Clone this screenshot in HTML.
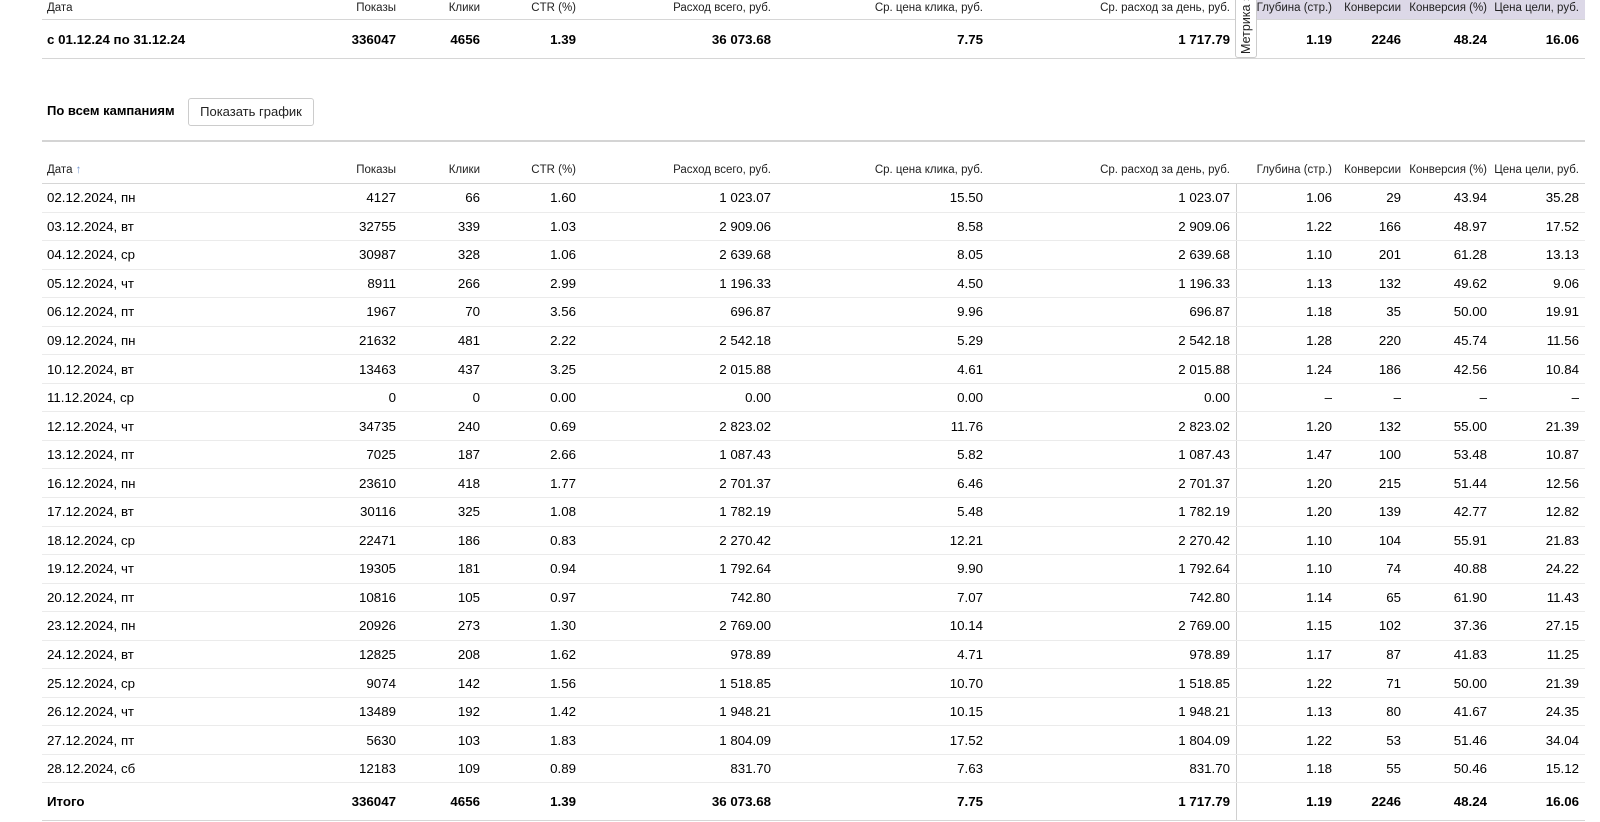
<!DOCTYPE html>
<html><head><meta charset="utf-8">
<style>
html,body{margin:0;padding:0;background:#fff;width:1600px;height:822px;overflow:hidden;font-family:"Liberation Sans","DejaVu Sans",sans-serif;color:#000}
table{position:absolute;left:42px;border-collapse:collapse;table-layout:fixed;width:1543px}
td{padding:0;text-align:right;white-space:nowrap;font-size:13.3px;border-bottom:1px solid #ebebeb}
td:first-child{text-align:left;padding-left:5px}
tr.h td{font-size:11.5px;color:#222}
#t1{top:0}
#t1 tr.h td{height:15px;border-bottom:1px solid #d6d6d6;vertical-align:middle;padding-bottom:4px}
#t1 tr.s td{height:38px;font-weight:bold;border-bottom:1px solid #d6d6d6}
#t2{top:155px}
#t2 tr.h td{height:27px;border-bottom:1px solid #d6d6d6;padding-top:1px}
#t2 tr.d td{height:27.55px}
#t2 tr.t td{height:37px;font-weight:bold;border-bottom:1px solid #d6d6d6}
#t2 td.sep{border-right:1px solid #d0d0d0}
</style></head><body>
<div style="position:absolute;left:1257px;top:0;width:328px;height:19px;background:#dcd8e7"></div>
<table id="t1">
<colgroup><col style="width:250px"><col style="width:104px"><col style="width:84px"><col style="width:96px"><col style="width:195px"><col style="width:212px"><col style="width:247px"><col style="width:6px"><col style="width:96px"><col style="width:69px"><col style="width:86px"><col style="width:92px"><col style="width:6px"></colgroup>
<tr class="h"><td>Дата</td><td>Показы</td><td>Клики</td><td>CTR (%)</td><td>Расход всего, руб.</td><td>Ср. цена клика, руб.</td><td>Ср. расход за день, руб.</td><td></td><td>Глубина (стр.)</td><td>Конверсии</td><td>Конверсия (%)</td><td>Цена цели, руб.</td><td></td></tr>
<tr class="s"><td>с 01.12.24 по 31.12.24</td><td>336047</td><td>4656</td><td>1.39</td><td>36 073.68</td><td>7.75</td><td>1 717.79</td><td></td><td>1.19</td><td>2246</td><td>48.24</td><td>16.06</td><td></td></tr>
</table>
<div style="position:absolute;left:1235px;top:-2px;width:20px;height:59px;background:#fff;border:1px solid #ccc;border-top:none;border-radius:0 0 3px 3px;overflow:hidden"><div style="position:absolute;left:10px;top:26px;transform:translate(-50%,-50%) rotate(-90deg);font-size:12.5px;white-space:nowrap;color:#222">Метрика »</div></div>

<div style="position:absolute;left:47px;top:103px;font-size:13px;font-weight:bold">По всем кампаниям</div>
<div style="position:absolute;left:188px;top:98px;width:124px;height:26px;border:1px solid #ccc;border-radius:3px;font-size:13px;line-height:26px;text-align:center;color:#222">Показать график</div>
<div style="position:absolute;left:42px;top:140px;width:1543px;height:2px;background:#d4d4d4"></div>

<table id="t2">
<colgroup><col style="width:250px"><col style="width:104px"><col style="width:84px"><col style="width:96px"><col style="width:195px"><col style="width:212px"><col style="width:247px"><col style="width:6px"><col style="width:96px"><col style="width:69px"><col style="width:86px"><col style="width:92px"><col style="width:6px"></colgroup>
<tr class="h"><td>Дата <span style="color:#7a9ad0">↑</span></td><td>Показы</td><td>Клики</td><td>CTR (%)</td><td>Расход всего, руб.</td><td>Ср. цена клика, руб.</td><td>Ср. расход за день, руб.</td><td></td><td>Глубина (стр.)</td><td>Конверсии</td><td>Конверсия (%)</td><td>Цена цели, руб.</td><td></td></tr>
<tr class="d"><td>02.12.2024, пн</td><td>4127</td><td>66</td><td>1.60</td><td>1 023.07</td><td>15.50</td><td>1 023.07</td><td class="sep"></td><td>1.06</td><td>29</td><td>43.94</td><td>35.28</td><td></td></tr>
<tr class="d"><td>03.12.2024, вт</td><td>32755</td><td>339</td><td>1.03</td><td>2 909.06</td><td>8.58</td><td>2 909.06</td><td class="sep"></td><td>1.22</td><td>166</td><td>48.97</td><td>17.52</td><td></td></tr>
<tr class="d"><td>04.12.2024, ср</td><td>30987</td><td>328</td><td>1.06</td><td>2 639.68</td><td>8.05</td><td>2 639.68</td><td class="sep"></td><td>1.10</td><td>201</td><td>61.28</td><td>13.13</td><td></td></tr>
<tr class="d"><td>05.12.2024, чт</td><td>8911</td><td>266</td><td>2.99</td><td>1 196.33</td><td>4.50</td><td>1 196.33</td><td class="sep"></td><td>1.13</td><td>132</td><td>49.62</td><td>9.06</td><td></td></tr>
<tr class="d"><td>06.12.2024, пт</td><td>1967</td><td>70</td><td>3.56</td><td>696.87</td><td>9.96</td><td>696.87</td><td class="sep"></td><td>1.18</td><td>35</td><td>50.00</td><td>19.91</td><td></td></tr>
<tr class="d"><td>09.12.2024, пн</td><td>21632</td><td>481</td><td>2.22</td><td>2 542.18</td><td>5.29</td><td>2 542.18</td><td class="sep"></td><td>1.28</td><td>220</td><td>45.74</td><td>11.56</td><td></td></tr>
<tr class="d"><td>10.12.2024, вт</td><td>13463</td><td>437</td><td>3.25</td><td>2 015.88</td><td>4.61</td><td>2 015.88</td><td class="sep"></td><td>1.24</td><td>186</td><td>42.56</td><td>10.84</td><td></td></tr>
<tr class="d"><td>11.12.2024, ср</td><td>0</td><td>0</td><td>0.00</td><td>0.00</td><td>0.00</td><td>0.00</td><td class="sep"></td><td>–</td><td>–</td><td>–</td><td>–</td><td></td></tr>
<tr class="d"><td>12.12.2024, чт</td><td>34735</td><td>240</td><td>0.69</td><td>2 823.02</td><td>11.76</td><td>2 823.02</td><td class="sep"></td><td>1.20</td><td>132</td><td>55.00</td><td>21.39</td><td></td></tr>
<tr class="d"><td>13.12.2024, пт</td><td>7025</td><td>187</td><td>2.66</td><td>1 087.43</td><td>5.82</td><td>1 087.43</td><td class="sep"></td><td>1.47</td><td>100</td><td>53.48</td><td>10.87</td><td></td></tr>
<tr class="d"><td>16.12.2024, пн</td><td>23610</td><td>418</td><td>1.77</td><td>2 701.37</td><td>6.46</td><td>2 701.37</td><td class="sep"></td><td>1.20</td><td>215</td><td>51.44</td><td>12.56</td><td></td></tr>
<tr class="d"><td>17.12.2024, вт</td><td>30116</td><td>325</td><td>1.08</td><td>1 782.19</td><td>5.48</td><td>1 782.19</td><td class="sep"></td><td>1.20</td><td>139</td><td>42.77</td><td>12.82</td><td></td></tr>
<tr class="d"><td>18.12.2024, ср</td><td>22471</td><td>186</td><td>0.83</td><td>2 270.42</td><td>12.21</td><td>2 270.42</td><td class="sep"></td><td>1.10</td><td>104</td><td>55.91</td><td>21.83</td><td></td></tr>
<tr class="d"><td>19.12.2024, чт</td><td>19305</td><td>181</td><td>0.94</td><td>1 792.64</td><td>9.90</td><td>1 792.64</td><td class="sep"></td><td>1.10</td><td>74</td><td>40.88</td><td>24.22</td><td></td></tr>
<tr class="d"><td>20.12.2024, пт</td><td>10816</td><td>105</td><td>0.97</td><td>742.80</td><td>7.07</td><td>742.80</td><td class="sep"></td><td>1.14</td><td>65</td><td>61.90</td><td>11.43</td><td></td></tr>
<tr class="d"><td>23.12.2024, пн</td><td>20926</td><td>273</td><td>1.30</td><td>2 769.00</td><td>10.14</td><td>2 769.00</td><td class="sep"></td><td>1.15</td><td>102</td><td>37.36</td><td>27.15</td><td></td></tr>
<tr class="d"><td>24.12.2024, вт</td><td>12825</td><td>208</td><td>1.62</td><td>978.89</td><td>4.71</td><td>978.89</td><td class="sep"></td><td>1.17</td><td>87</td><td>41.83</td><td>11.25</td><td></td></tr>
<tr class="d"><td>25.12.2024, ср</td><td>9074</td><td>142</td><td>1.56</td><td>1 518.85</td><td>10.70</td><td>1 518.85</td><td class="sep"></td><td>1.22</td><td>71</td><td>50.00</td><td>21.39</td><td></td></tr>
<tr class="d"><td>26.12.2024, чт</td><td>13489</td><td>192</td><td>1.42</td><td>1 948.21</td><td>10.15</td><td>1 948.21</td><td class="sep"></td><td>1.13</td><td>80</td><td>41.67</td><td>24.35</td><td></td></tr>
<tr class="d"><td>27.12.2024, пт</td><td>5630</td><td>103</td><td>1.83</td><td>1 804.09</td><td>17.52</td><td>1 804.09</td><td class="sep"></td><td>1.22</td><td>53</td><td>51.46</td><td>34.04</td><td></td></tr>
<tr class="d"><td>28.12.2024, сб</td><td>12183</td><td>109</td><td>0.89</td><td>831.70</td><td>7.63</td><td>831.70</td><td class="sep"></td><td>1.18</td><td>55</td><td>50.46</td><td>15.12</td><td></td></tr>
<tr class="t"><td>Итого</td><td>336047</td><td>4656</td><td>1.39</td><td>36 073.68</td><td>7.75</td><td>1 717.79</td><td class="sep"></td><td>1.19</td><td>2246</td><td>48.24</td><td>16.06</td><td></td></tr>
</table>
</body></html>
